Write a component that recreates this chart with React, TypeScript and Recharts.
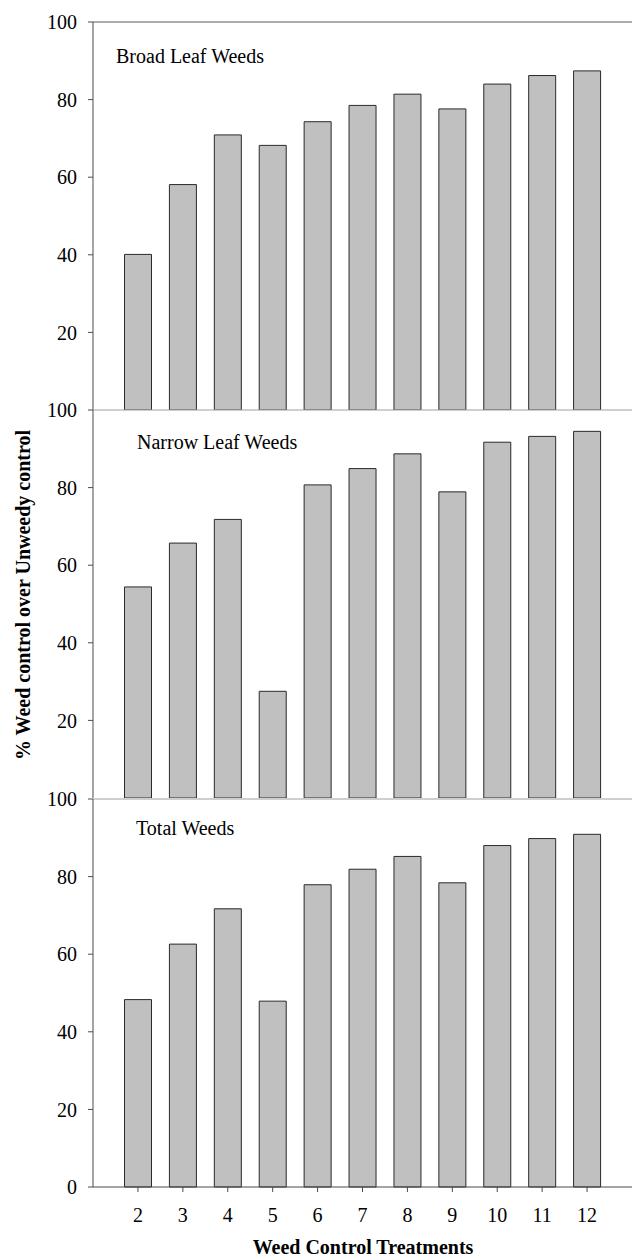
import React from 'react';
import { BarChart, Bar, XAxis, YAxis, ReferenceLine } from 'recharts';

const treatments = ['2', '3', '4', '5', '6', '7', '8', '9', '10', '11', '12'];
const broadLeaf = [40.1, 58.1, 70.9, 68.2, 74.3, 78.5, 81.4, 77.6, 84.0, 86.2, 87.4];
const narrowLeaf = [54.4, 65.7, 71.8, 27.5, 80.7, 84.9, 88.7, 78.9, 91.7, 93.2, 94.5];
const totalWeeds = [48.3, 62.6, 71.7, 47.9, 77.9, 81.9, 85.2, 78.4, 88.0, 89.8, 90.9];
const upperTicks = [20, 40, 60, 80, 100];
const bottomTicks = [0, 20, 40, 60, 80, 100];

const FONT = '"Liberation Serif", "Times New Roman", serif';
const AXIS = '#4a4a4a';

interface PanelProps {
    values: number[];
    ticks: number[];
    top: number;
    topLine: string;
    showX?: boolean;
}

// each panel: plot area is 388px tall, starting 12px below the div top
const Panel: React.FC<PanelProps> = ({ values, ticks, top, topLine, showX }) => {
    const data = treatments.map((t, i) => ({ treatment: t, value: values[i] }));
    return (
        <div style={{ position: 'absolute', left: 0, top }}>
            <BarChart
                width={632}
                height={showX ? 440 : 400}
                data={data}
                margin={{ top: 12, right: 0, bottom: 0, left: 0 }}
            >
                <XAxis
                    dataKey="treatment"
                    hide={!showX}
                    height={40}
                    padding={{ left: 22.5, right: 22.5 }}
                    tickSize={5}
                    tickMargin={16}
                    interval={0}
                    axisLine={{ stroke: AXIS }}
                    tickLine={{ stroke: AXIS }}
                    tick={{ fill: '#000', fontSize: 20, fontFamily: FONT }}
                />
                <YAxis
                    type="number"
                    domain={[0, 100]}
                    ticks={ticks}
                    interval={0}
                    width={93}
                    tickSize={5}
                    tickMargin={11}
                    axisLine={{ stroke: AXIS }}
                    tickLine={{ stroke: AXIS }}
                    tick={{ fill: '#000', fontSize: 20, fontFamily: FONT }}
                />
                <ReferenceLine y={100} stroke={topLine} strokeWidth={1.2} />
                <Bar
                    dataKey="value"
                    fill="#c0c0c0"
                    stroke="#2a2a2a"
                    strokeWidth={1}
                    barSize={27}
                    isAnimationActive={false}
                />
            </BarChart>
        </div>
    );
};

const labelStyle: React.CSSProperties = {
    position: 'absolute',
    fontFamily: FONT,
    fontSize: 20,
    lineHeight: '20px',
    whiteSpace: 'nowrap',
    color: '#000',
};

export default function App() {
    return (
        <div style={{ position: 'absolute', left: 0, top: 0, width: 632, height: 1260, background: '#fff', overflow: 'hidden' }}>
            <Panel values={broadLeaf} ticks={upperTicks} top={10} topLine="#5a5a5a" />
            <Panel values={narrowLeaf} ticks={upperTicks} top={398} topLine="#a0a0a0" />
            <Panel values={totalWeeds} ticks={bottomTicks} top={787} topLine="#a0a0a0" showX />

            {/* panel titles */}
            <div style={{ ...labelStyle, left: 116, top: 45.5 }}>Broad Leaf Weeds</div>
            <div style={{ ...labelStyle, left: 137, top: 431.5 }}>Narrow Leaf Weeds</div>
            <div style={{ ...labelStyle, left: 136, top: 818 }}>Total Weeds</div>

            {/* axis titles */}
            <div
                style={{
                    ...labelStyle,
                    fontWeight: 'bold',
                    left: 23,
                    top: 595,
                    transform: 'translate(-50%, -50%) rotate(-90deg)',
                }}
            >
                % Weed control over Unweedy control
            </div>
            <div
                style={{
                    ...labelStyle,
                    fontWeight: 'bold',
                    left: 363,
                    top: 1237,
                    transform: 'translateX(-50%)',
                }}
            >
                Weed Control Treatments
            </div>
        </div>
    );
}
